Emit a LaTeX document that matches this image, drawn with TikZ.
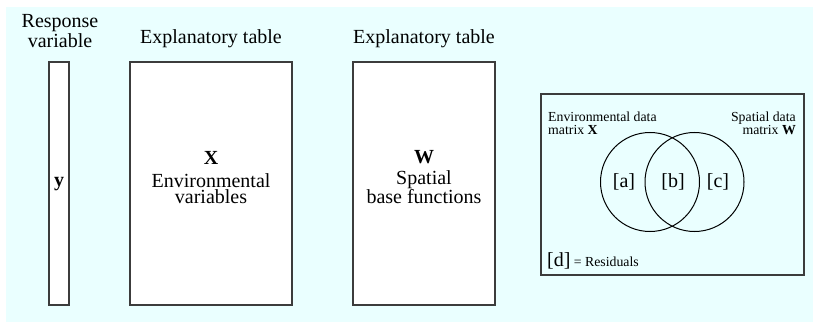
\documentclass[tikz,border=0pt]{standalone}
\usepackage{fontspec}
\setmainfont{Liberation Serif}
\definecolor{bgcyan}{RGB}{234,255,255}
\definecolor{boxline}{RGB}{60,60,60}
\begin{document}
\begin{tikzpicture}[x=1pt,y=-1pt,
  tablebox/.style={draw=boxline,line width=1.3pt,fill=white},
  bigtxt/.style={font=\fontsize{20}{22}\selectfont,anchor=base,inner sep=0pt},
  smalltxt/.style={font=\fontsize{13.8}{15}\selectfont,anchor=base,inner sep=0pt},
  venncircle/.style={draw=black,line width=1pt}]
\useasboundingbox (0,0) rectangle (813,323);
\fill[bgcyan] (6,7) rectangle (813,322);
% boxes
\draw[tablebox] (49,62) rectangle (69,305);
\draw[tablebox] (130,62) rectangle (292,305);
\draw[tablebox] (353,62) rectangle (495,305);
% headings
\node[bigtxt] (resp1) at (60,28) {Response};
\node[bigtxt] (resp2) at (60,48) {variable};
\node[bigtxt] (exp1) at (211,43.5) {Explanatory table};
\node[bigtxt] (exp2) at (424,43.5) {Explanatory table};
% box contents
\node[bigtxt] (ylab) at (59,186) {\textbf{y}};
\node[bigtxt] (xlab) at (211,165) {\textbf{X}};
\node[bigtxt] (xenv) at (211,187) {Environmental};
\node[bigtxt] (xvar) at (211,204) {variables};
\node[bigtxt] (wlab) at (424,164) {\textbf{W}};
\node[bigtxt] (wsp) at (424,185) {Spatial};
\node[bigtxt] (wbase) at (424,204) {base functions};
% venn panel
\draw[draw=boxline,line width=1.3pt,fill=white,fill opacity=0] (541,94) rectangle (804,275);
\draw[venncircle] (650,182) circle (49.5);
\draw[venncircle] (694.5,182) circle (49.5);
\node[smalltxt,anchor=base west] (envd) at (548,121.5) {Environmental data};
\node[smalltxt,anchor=base west] (envm) at (548,135) {matrix \textbf{X}};
\node[smalltxt,anchor=base east] (spd) at (796,121.5) {Spatial data};
\node[smalltxt,anchor=base east] (spm) at (796,135) {matrix \textbf{W}};
\node[bigtxt] (fa) at (624,188) {[a]};
\node[bigtxt] (fb) at (673,188) {[b]};
\node[bigtxt] (fc) at (718,188) {[c]};
\node[bigtxt,anchor=base west] (fd) at (547,266) {[d]\,{\fontsize{13.8}{15}\selectfont= Residuals}};
\end{tikzpicture}
\end{document}
